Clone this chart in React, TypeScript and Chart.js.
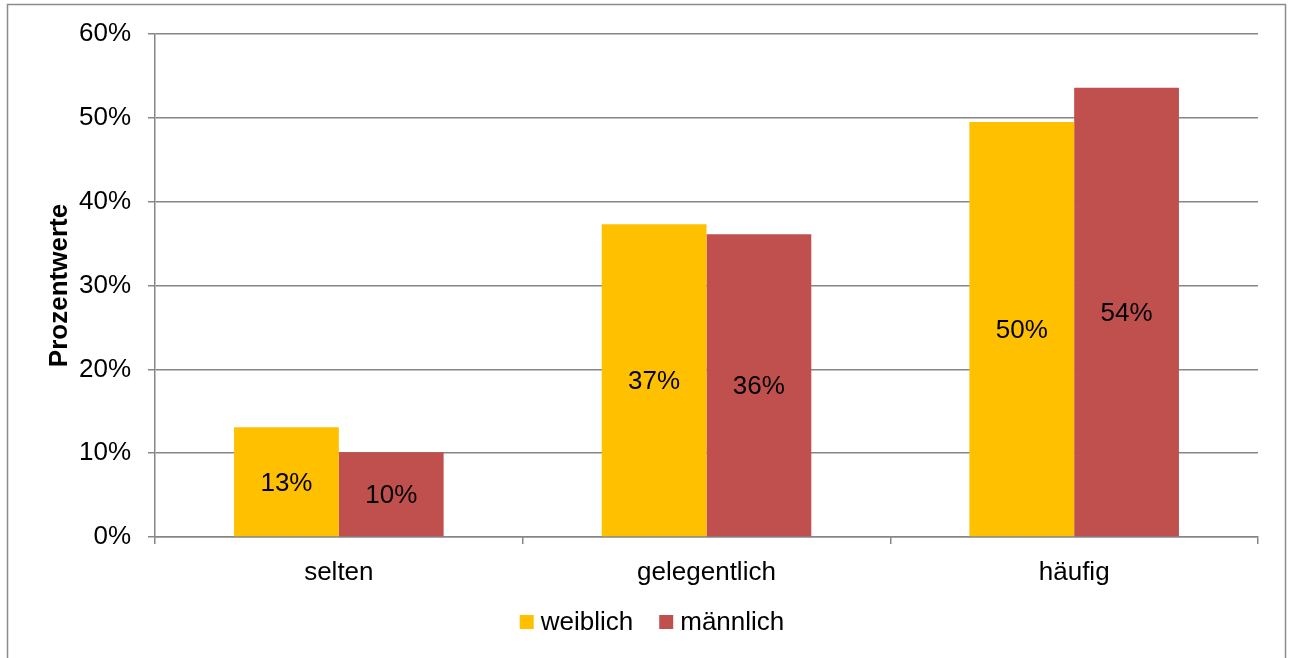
import React, { useEffect, useRef } from "react";
import { Chart, registerables } from "chart.js";

Chart.register(...registerables);

const categories = ["selten", "gelegentlich", "häufig"];
const weiblich = [13.1, 37.3, 49.5];
const maennlich = [10.1, 36.1, 53.6];
const seriesNames = ["weiblich", "männlich"];
const seriesColors = ["#FFC000", "#C0504D"];
const yTicks = [0, 10, 20, 30, 40, 50, 60];
const axisTitle = "Prozentwerte";

const FONT = "'Liberation Sans', Arial, sans-serif";
const FS = 26;

export default function App() {
  const ref = useRef<HTMLCanvasElement | null>(null);

  useEffect(() => {
    document.body.style.margin = "0";
    const canvas = ref.current;
    if (!canvas) return;

    const framePlugin = {
      id: "frame",
      beforeDraw(chart: any) {
        const ctx = chart.ctx;
        ctx.save();
        ctx.fillStyle = "#ffffff";
        ctx.fillRect(0, 0, chart.width, chart.height);
        ctx.strokeStyle = "#8c8c8c";
        ctx.lineWidth = 1.5;
        ctx.strokeRect(7.5, 4.5, 1278, 700);
        ctx.restore();
      },
    };

    const labelsPlugin = {
      id: "barLabels",
      afterDatasetsDraw(chart: any) {
        const ctx = chart.ctx;
        ctx.save();
        ctx.font = `${FS}px ${FONT}`;
        ctx.fillStyle = "#000";
        ctx.textAlign = "center";
        ctx.textBaseline = "middle";
        chart.data.datasets.forEach((ds: any, di: number) => {
          const meta = chart.getDatasetMeta(di);
          meta.data.forEach((bar: any, i: number) => {
            const v = ds.data[i];
            const y = (bar.y + bar.base) / 2;
            ctx.fillText(Math.round(v) + "%", bar.x, y + 2);
          });
        });
        ctx.restore();
      },
    };

    const extrasPlugin = {
      id: "extras",
      afterDraw(chart: any) {
        const ctx = chart.ctx;
        const area = chart.chartArea;
        ctx.save();
        // axis title
        ctx.font = `bold ${FS}px ${FONT}`;
        ctx.fillStyle = "#000";
        ctx.textAlign = "center";
        ctx.textBaseline = "middle";
        ctx.translate(60, (area.top + area.bottom) / 2);
        ctx.rotate(-Math.PI / 2);
        ctx.fillText(axisTitle, 0, 0);
        ctx.restore();

        // legend
        ctx.save();
        ctx.font = `${FS}px ${FONT}`;
        ctx.textBaseline = "middle";
        ctx.textAlign = "left";
        const box = 14;
        const gapBoxText = 7;
        const gapItems = 26;
        const widths = seriesNames.map((n) => ctx.measureText(n).width);
        let total = 0;
        widths.forEach((w, i) => {
          total += box + gapBoxText + w + (i < widths.length - 1 ? gapItems : 0);
        });
        let x = 652 - total / 2;
        const cy = 622;
        seriesNames.forEach((n, i) => {
          ctx.fillStyle = seriesColors[i];
          ctx.fillRect(x, cy - box / 2, box, box);
          ctx.fillStyle = "#000";
          ctx.fillText(n, x + box + gapBoxText, cy + 1);
          x += box + gapBoxText + widths[i] + gapItems;
        });
        ctx.restore();
      },
    };

    const chart = new Chart(canvas, {
      type: "bar",
      data: {
        labels: categories,
        datasets: [
          {
            label: seriesNames[0],
            data: weiblich,
            backgroundColor: seriesColors[0],
            categoryPercentage: 0.57,
            barPercentage: 1,
          },
          {
            label: seriesNames[1],
            data: maennlich,
            backgroundColor: seriesColors[1],
            categoryPercentage: 0.57,
            barPercentage: 1,
          },
        ],
      },
      options: {
        animation: false,
        responsive: false,
        maintainAspectRatio: false,
        layout: { padding: { top: 34, right: 33, left: 0, bottom: 0 } },
        plugins: {
          legend: { display: false },
          tooltip: { enabled: false },
        },
        scales: {
          x: {
            offset: true,
            grid: {
              offset: true,
              drawOnChartArea: false,
              drawTicks: true,
              tickLength: 7,
              color: "#868686",
              lineWidth: 1.5,
            },
            border: { display: true, color: "#868686", width: 1.5 },
            ticks: {
              color: "#000",
              font: { family: FONT, size: FS },
              padding: 13,
            },
            afterFit(scale: any) {
              scale.height = 121;
            },
          },
          y: {
            min: 0,
            max: 60,
            afterBuildTicks(scale: any) {
              scale.ticks = yTicks.map((v) => ({ value: v }));
            },
            grid: {
              color: "#868686",
              lineWidth: 1.5,
              drawTicks: true,
              tickLength: 7,
            },
            border: { display: true, color: "#868686", width: 1.5 },
            ticks: {
              color: "#000",
              font: { family: FONT, size: FS },
              padding: 17,
              callback: (v: any) => v + "%",
            },
            afterFit(scale: any) {
              scale.width = 155;
            },
          },
        },
      },
      plugins: [framePlugin, labelsPlugin, extrasPlugin],
    });

    return () => chart.destroy();
  }, []);

  return (
    <div style={{ position: "fixed", left: 0, top: 0, width: 1291, height: 658 }}>
      <canvas ref={ref} width={1291} height={658} style={{ width: 1291, height: 658 }} />
    </div>
  );
}
